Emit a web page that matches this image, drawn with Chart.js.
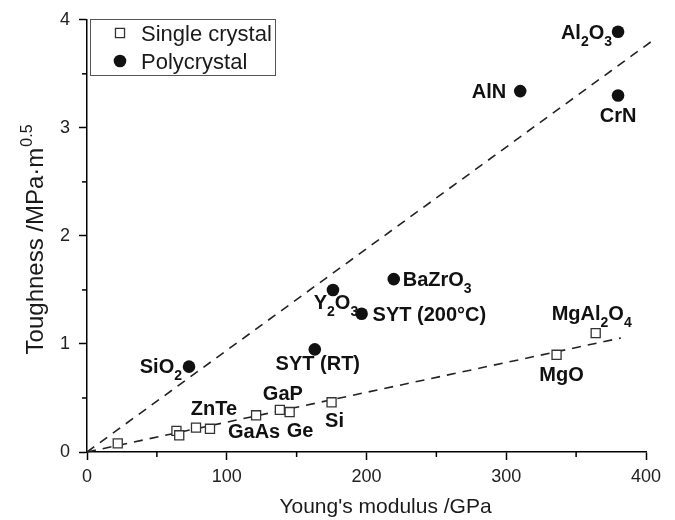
<!DOCTYPE html>
<html>
<head>
<meta charset="utf-8">
<script src="https://cdn.jsdelivr.net/npm/chart.js@4.4.1/dist/chart.umd.min.js"></script>
<style>
  html, body { margin: 0; padding: 0; background: #fff; }
  #graficoContainer { width: 675px; height: 520px; }
</style>
</head>
<body>
<div id="graficoContainer"><canvas id="grafico" width="675" height="520"></canvas></div>
<script>
// Monocristales (cuadrados vacios)
const singleModulus   = [22, 64, 66, 78, 88, 121, 138, 145, 175, 336, 364];
const singleToughness = [0.08, 0.195, 0.155, 0.225, 0.215, 0.34, 0.39, 0.37, 0.46, 0.90, 1.10];
const singleNames     = ['', '', '', '', 'ZnTe', 'GaAs', 'GaP', 'Ge', 'Si', 'MgO', 'MgAl_2O_4'];

// Policristales (circulos llenos)
const polyModulus   = [73, 163, 176, 196.5, 219.5, 310, 380, 380];
const polyToughness = [0.79, 0.95, 1.50, 1.28, 1.60, 3.34, 3.89, 3.30];
const polyNames     = ['SiO_2', 'SYT (RT)', 'Y_2O_3', 'SYT (200°C)', 'BaZrO_3', 'AlN', 'Al_2O_3', 'CrN'];

// Lineas discontinuas de tendencia
const polyLineX   = [0, 405];
const polyLineY   = [0, 3.81];
const singleLineX = [0, 382];
const singleLineY = [0, 1.055];

// Marcas con etiqueta
const xTicks = [0, 100, 200, 300, 400];
const yTicks = [0, 1, 2, 3, 4];

// Posicion de cada etiqueta respecto a su punto: [dx, dy(linea base), alineacion]
const singlePlace = [null, null, null, null, [4, -14, 'center'], [-2, 23, 'center'], [3, -10, 'center'],
                     [-3, 25, 'left'], [3, 25, 'center'], [5, 26, 'center'], [-4, -13, 'center']];
const polyPlace = [[-7, 6, 'right'], [3, 21, 'center'], [3, 19, 'center'], [11, 7, 'left'],
                   [9, 7, 'left'], [-14, 7, 'right'], [-6, 7, 'right'], [0, 27, 'center']];

const FAMILIA = '"Liberation Sans", Arial, Helvetica, sans-serif';
Chart.defaults.font.family = FAMILIA;

function puntos(xs, ys) {
    return xs.map((x, i) => ({ x: x, y: ys[i] }));
}

// 'Al_2O_3' -> trozos normales y subindices
function partes(txt) {
    const out = [];
    let buf = '';
    for (let i = 0; i < txt.length; i++) {
        if (txt[i] === '_') {
            if (buf) out.push({ t: buf, sub: false });
            buf = '';
            out.push({ t: txt[i + 1], sub: true });
            i++;
        } else {
            buf += txt[i];
        }
    }
    if (buf) out.push({ t: buf, sub: false });
    return out;
}

function textoRico(ctx, txt, x, y, align) {
    const segs = partes(txt);
    const normal = 'bold 20px ' + FAMILIA;
    const small = 'bold 14px ' + FAMILIA;
    let w = 0;
    segs.forEach(s => {
        ctx.font = s.sub ? small : normal;
        s.w = ctx.measureText(s.t).width;
        w += s.w;
    });
    let cx = align === 'center' ? x - w / 2 : (align === 'right' ? x - w : x);
    ctx.textAlign = 'left';
    ctx.textBaseline = 'alphabetic';
    segs.forEach(s => {
        ctx.font = s.sub ? small : normal;
        ctx.fillText(s.t, cx, s.sub ? y + 7 : y);
        cx += s.w;
    });
}

const marcasMenores = {
    id: 'marcasMenores',
    afterDraw(chart) {
        const ctx = chart.ctx;
        const xs = chart.scales.x, ys = chart.scales.y;
        ctx.save();
        ctx.strokeStyle = '#000';
        ctx.lineWidth = 1.5;
        xs.ticks.forEach(t => {
            if (xTicks.includes(t.value)) return;
            const px = xs.getPixelForValue(t.value);
            ctx.beginPath();
            ctx.moveTo(px, xs.top);
            ctx.lineTo(px, xs.top + 5);
            ctx.stroke();
        });
        ys.ticks.forEach(t => {
            if (yTicks.includes(t.value)) return;
            const py = ys.getPixelForValue(t.value);
            ctx.beginPath();
            ctx.moveTo(ys.right, py);
            ctx.lineTo(ys.right - 5, py);
            ctx.stroke();
        });
        ctx.restore();
    }
};

const etiquetas = {
    id: 'etiquetas',
    afterDatasetsDraw(chart) {
        const ctx = chart.ctx;
        ctx.save();
        ctx.fillStyle = '#111';
        const grupos = [[0, singleNames, singlePlace], [1, polyNames, polyPlace]];
        grupos.forEach(([ds, nombres, lugar]) => {
            const meta = chart.getDatasetMeta(ds);
            nombres.forEach((n, i) => {
                if (!n) return;
                const p = meta.data[i];
                const [dx, dy, al] = lugar[i];
                textoRico(ctx, n, p.x + dx, p.y + dy, al);
            });
        });
        ctx.restore();
    }
};

const titulos = {
    id: 'titulos',
    afterDraw(chart) {
        const ctx = chart.ctx;
        const xs = chart.scales.x, ys = chart.scales.y;
        ctx.save();
        ctx.fillStyle = '#1a1a1a';
        // eje x
        ctx.font = '21px ' + FAMILIA;
        ctx.textAlign = 'center';
        ctx.textBaseline = 'middle';
        ctx.fillText("Young's modulus /GPa", (xs.left + xs.right) / 2 + 19, 507);
        // eje y con superindice
        const principal = 'Toughness /MPa·m';
        const sup = '0.5';
        ctx.font = '24px ' + FAMILIA;
        const w1 = ctx.measureText(principal).width;
        ctx.font = '16px ' + FAMILIA;
        const w2 = ctx.measureText(sup).width;
        ctx.translate(43, (ys.top + ys.bottom) / 2 + 4);
        ctx.rotate(-Math.PI / 2);
        ctx.textAlign = 'left';
        ctx.textBaseline = 'alphabetic';
        const x0 = -(w1 + w2) / 2;
        ctx.font = '24px ' + FAMILIA;
        ctx.fillText(principal, x0, 0);
        ctx.font = '16px ' + FAMILIA;
        ctx.fillText(sup, x0 + w1 + 1, -11);
        ctx.restore();
    }
};

const leyenda = {
    id: 'leyenda',
    afterDraw(chart) {
        const ctx = chart.ctx;
        ctx.save();
        ctx.fillStyle = '#fff';
        ctx.fillRect(90, 19, 185, 56);
        ctx.strokeStyle = '#555';
        ctx.lineWidth = 1;
        ctx.strokeRect(90.5, 19.5, 185, 56);
        [0, 1].forEach((ds, k) => {
            const d = chart.data.datasets[ds];
            const y = 33 + k * 28;
            ctx.fillStyle = d.backgroundColor;
            ctx.strokeStyle = d.borderColor;
            ctx.lineWidth = d.borderWidth;
            Chart.helpers.drawPoint(ctx, {
                pointStyle: d.pointStyle, radius: d.pointRadius, rotation: 0, borderWidth: d.borderWidth
            }, 120, y);
            ctx.fillStyle = '#1a1a1a';
            ctx.font = '22px ' + FAMILIA;
            ctx.textAlign = 'left';
            ctx.textBaseline = 'alphabetic';
            ctx.fillText(d.label, 141, y + 8);
        });
        ctx.restore();
    }
};

const ctx = document.getElementById('grafico').getContext('2d');
const chart = new Chart(ctx, {
    type: 'scatter',
    data: {
        datasets: [
            {
                label: 'Single crystal',
                data: puntos(singleModulus, singleToughness),
                pointStyle: 'rect',
                pointRadius: 6.4,
                backgroundColor: '#fff',
                borderColor: '#333',
                borderWidth: 1.3
            },
            {
                label: 'Polycrystal',
                data: puntos(polyModulus, polyToughness),
                pointStyle: 'circle',
                pointRadius: 6.3,
                backgroundColor: '#111',
                borderColor: '#111',
                borderWidth: 0
            },
            {
                label: 'poly fit',
                data: puntos(polyLineX, polyLineY),
                showLine: true,
                pointRadius: 0,
                borderColor: '#222',
                borderWidth: 1.6,
                borderDash: [9, 7],
                clip: false
            },
            {
                label: 'single fit',
                data: puntos(singleLineX, singleLineY),
                showLine: true,
                pointRadius: 0,
                borderColor: '#222',
                borderWidth: 1.6,
                borderDash: [9, 7],
                clip: false
            }
        ]
    },
    options: {
        responsive: false,
        animation: false,
        devicePixelRatio: 1,
        layout: { padding: { top: 16, right: 29, left: 0, bottom: 0 } },
        plugins: {
            legend: { display: false },
            tooltip: { enabled: false }
        },
        scales: {
            x: {
                type: 'linear',
                position: 'bottom',
                min: 0,
                max: 400,
                afterFit: s => { s.height = 68; },
                ticks: {
                    stepSize: 50,
                    autoSkip: false,
                    maxRotation: 0,
                    padding: 6,
                    color: '#222',
                    font: { size: 18 },
                    callback: v => xTicks.includes(v) ? String(v) : ''
                },
                grid: {
                    drawOnChartArea: false,
                    tickLength: 8,
                    tickWidth: 1.5,
                    tickColor: c => (c.tick && xTicks.includes(c.tick.value)) ? '#000' : 'rgba(0,0,0,0)'
                },
                border: { display: true, color: '#000', width: 1.5 }
            },
            y: {
                type: 'linear',
                min: 0,
                max: 4,
                afterFit: s => { s.width = 87; },
                ticks: {
                    stepSize: 0.5,
                    autoSkip: false,
                    padding: 9,
                    color: '#222',
                    font: { size: 18 },
                    callback: v => yTicks.includes(v) ? String(v) : ''
                },
                grid: {
                    drawOnChartArea: false,
                    tickLength: 8,
                    tickWidth: 1.5,
                    tickColor: c => (c.tick && yTicks.includes(c.tick.value)) ? '#000' : 'rgba(0,0,0,0)'
                },
                border: { display: true, color: '#000', width: 1.5 }
            }
        }
    },
    plugins: [marcasMenores, etiquetas, titulos, leyenda]
});
</script>
</body>
</html>
